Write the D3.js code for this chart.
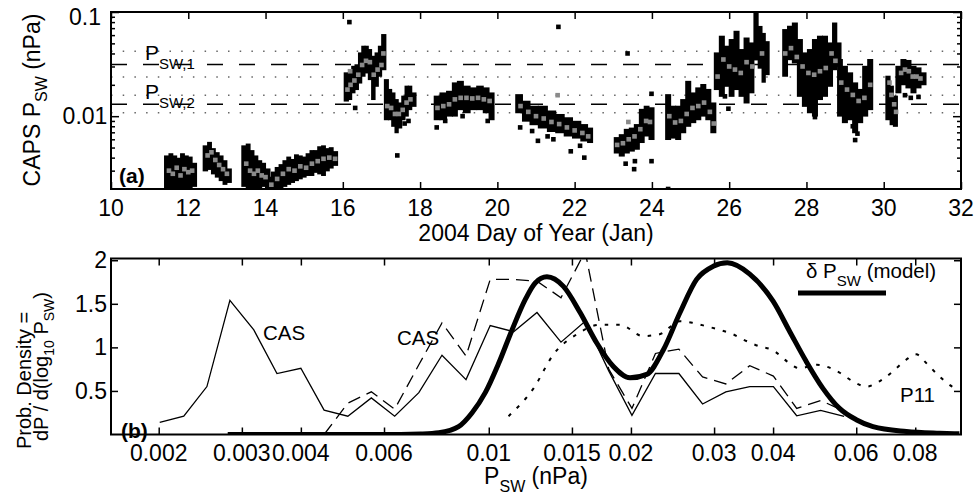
<!DOCTYPE html>
<html>
<head>
<meta charset="utf-8">
<script src="https://cdn.jsdelivr.net/npm/d3@7"></script>
<style>
  body { margin: 0; background: #fff; }
  svg { display: block; }
  text { font-family: "Liberation Sans", Arial, Helvetica, sans-serif; fill: #000; }
</style>
</head>
<body>
<svg id="chart" width="974" height="495"></svg>
<script>
// ---------- panel (a): CAPS solar wind pressure vs day ----------
const dayTicks = [10, 12, 14, 16, 18, 20, 22, 24, 26, 28, 30, 32];
const pMajorTicks = [0.01, 0.1];
const pMinorTicks = [0.003, 0.004, 0.005, 0.006, 0.007, 0.008, 0.009,
                     0.02, 0.03, 0.04, 0.05, 0.06, 0.07, 0.08, 0.09];
const pswLevels = [0.0313, 0.0130];            // dashed P_SW,1 / P_SW,2
const pswBands = [0.042, 0.0238, 0.0159, 0.0108]; // dotted lines

// [day, low, high] spread of the black points, one list per data gap
const capsSpread = [
  [[11.45,0.0021,0.0040],[11.55,0.002,0.0042],[11.65,0.002,0.0040],[11.75,0.002,0.0038],
   [11.85,0.002,0.0042],[11.95,0.002,0.0040],[12.05,0.002,0.0039],[12.15,0.0022,0.0034]],
  [[12.45,0.0031,0.0050],[12.55,0.0032,0.0054],[12.65,0.0029,0.0047],[12.75,0.0027,0.0043],
   [12.85,0.0025,0.0040],[12.95,0.0023,0.0036],[13.05,0.0024,0.0030]],
  [[13.45,0.0022,0.0050],[13.55,0.002,0.0052],[13.65,0.002,0.0045],[13.75,0.002,0.0040],
   [13.85,0.0021,0.0036],[13.95,0.0022,0.0034],[14.05,0.0021,0.0030]],
  [[14.1,0.002,0.0025],[14.2,0.002,0.0028],[14.3,0.002,0.0031],[14.4,0.0021,0.0033],
   [14.5,0.0022,0.0036],[14.6,0.0023,0.0039],[14.7,0.0024,0.0037],[14.8,0.0025,0.0041],
   [14.9,0.0026,0.0040],[15.0,0.0027,0.0039],[15.1,0.0028,0.0042],[15.2,0.0028,0.0045],
   [15.3,0.0030,0.0045],[15.4,0.0029,0.0049],[15.5,0.0028,0.0050],[15.6,0.0031,0.0047],
   [15.7,0.0033,0.0048],[15.8,0.0035,0.0044]],
  [[16.10,0.0145,0.0251],[16.19,0.015,0.027],[16.27,0.0174,0.029],[16.36,0.0187,0.030],
   [16.45,0.0216,0.039],[16.53,0.0251,0.0452],[16.62,0.027,0.0452],[16.70,0.0233,0.042],
   [16.79,0.015,0.0362],[16.88,0.0201,0.039],[16.96,0.0251,0.0452],[17.05,0.029,0.0585]],
  [[17.14,0.0096,0.0216],[17.22,0.0096,0.0174],[17.31,0.0083,0.0161],[17.39,0.0072,0.0139],
   [17.48,0.0080,0.0129],[17.57,0.0096,0.015],[17.65,0.0104,0.0187],[17.74,0.012,0.0187],
   [17.83,0.0129,0.0161]],
  [[18.43,0.0096,0.015],[18.60,0.0096,0.0161],[18.77,0.0104,0.0167],[18.90,0.0104,0.0201],
   [19.03,0.012,0.0208],[19.21,0.0112,0.0187],[19.38,0.012,0.018],[19.55,0.012,0.0187],
   [19.72,0.0112,0.018],[19.85,0.0096,0.0161]],
  [[20.54,0.0112,0.0155],[20.76,0.0093,0.0134],[20.93,0.0086,0.012],[21.19,0.0080,0.012],
   [21.40,0.0074,0.0108],[21.62,0.0072,0.0100],[21.84,0.0067,0.0093],[22.05,0.0064,0.0086],
   [22.27,0.0060,0.0080],[22.40,0.0058,0.0074]],
  [[23.09,0.0046,0.0060],[23.22,0.0043,0.0064],[23.35,0.0046,0.0072],[23.48,0.0048,0.0074],
   [23.61,0.0050,0.0080],[23.74,0.0058,0.0112],[23.86,0.0067,0.012],[23.99,0.0062,0.0116]],
  [[24.42,0.0062,0.0155],[24.55,0.0064,0.012],[24.68,0.0062,0.012],[24.81,0.0072,0.0139],
   [24.94,0.0083,0.0208],[25.07,0.0090,0.0161],[25.2,0.0096,0.018],[25.33,0.0104,0.0194],
   [25.46,0.0096,0.0174],[25.59,0.0072,0.0129]],
  [[25.68,0.0187,0.039],[25.81,0.0161,0.0564],[25.94,0.0201,0.0452],[26.06,0.0161,0.0524],
   [26.19,0.0187,0.0629],[26.32,0.0161,0.042],[26.45,0.0139,0.0542],[26.58,0.0174,0.0486],
   [26.7,0.036,0.100],[26.8,0.030,0.070],[26.9,0.022,0.060],[26.97,0.026,0.050]],
  [[27.45,0.0251,0.0653],[27.57,0.0362,0.0703],[27.70,0.0337,0.0755],[27.83,0.0161,0.0524],
   [27.96,0.0129,0.039],[28.09,0.0112,0.042],[28.22,0.0104,0.0524],[28.35,0.015,0.0564],
   [28.48,0.0161,0.0564],[28.61,0.0201,0.0486],[28.74,0.029,0.0755],[28.83,0.0313,0.0486]],
  [[28.87,0.0104,0.0337],[28.99,0.0090,0.029],[29.13,0.0096,0.0251],[29.26,0.0072,0.0201],
   [29.39,0.0090,0.0174],[29.52,0.0104,0.029],[29.65,0.012,0.0337]],
  [[30.12,0.0096,0.0233],[30.21,0.0086,0.0187],[30.29,0.0083,0.015]],
  [[30.38,0.0174,0.029],[30.51,0.0208,0.0337],[30.64,0.0194,0.033],[30.77,0.0174,0.029],
   [30.9,0.0194,0.028],[31.03,0.0208,0.0251]]
];

// grey running values [day, P]
const capsGrey = [
  [11.5,0.0030],[11.6,0.0028],[11.7,0.0032],[11.8,0.0027],[11.9,0.0031],[12.0,0.0029],[12.1,0.0030],
  [12.5,0.0042],[12.6,0.0045],[12.7,0.0038],[12.8,0.0034],[12.9,0.0031],[13.0,0.0028],
  [13.5,0.0035],[13.6,0.0030],[13.7,0.0028],[13.8,0.0030],[13.9,0.0027],[14.0,0.0026],
  [14.15,0.0022],[14.3,0.0025],[14.45,0.0028],[14.6,0.0031],[14.75,0.0030],[14.9,0.0033],
  [15.05,0.0032],[15.2,0.0035],[15.35,0.0037],[15.5,0.0039],[15.65,0.0040],[15.8,0.0039],
  [16.12,0.0180],[16.2,0.020],[16.3,0.022],[16.4,0.025],[16.5,0.031],[16.6,0.034],[16.7,0.033],
  [16.8,0.025],[16.9,0.028],[17.0,0.031],[17.05,0.040],[16.19,0.027],
  [17.15,0.0125],[17.25,0.0120],[17.35,0.0105],[17.45,0.0105],[17.55,0.0115],[17.65,0.0135],[17.75,0.0145],
  [18.45,0.012],[18.6,0.0125],[18.75,0.013],[18.9,0.0145],[19.05,0.0150],[19.2,0.0150],
  [19.35,0.0148],[19.5,0.0150],[19.65,0.0145],[19.8,0.0140],
  [20.6,0.0125],[20.8,0.0110],[21.0,0.0100],[21.2,0.0095],[21.4,0.0088],[21.6,0.0084],
  [21.8,0.0078],[22.0,0.0073],[22.2,0.0069],[22.35,0.0064],[21.56,0.0159],
  [23.1,0.0053],[23.25,0.0055],[23.4,0.0060],[23.55,0.0064],[23.7,0.0075],[23.85,0.0090],
  [23.95,0.0088],[23.39,0.0088],
  [24.45,0.0100],[24.6,0.0087],[24.75,0.0090],[24.9,0.0105],[25.05,0.0120],[25.2,0.0125],
  [25.35,0.0135],[25.5,0.0110],[25.6,0.0085],
  [25.7,0.024],[25.85,0.035],[26.0,0.030],[26.15,0.028],[26.3,0.026],[26.45,0.033],[26.6,0.030],[26.85,0.040],
  [27.45,0.040],[27.6,0.045],[27.75,0.037],[27.9,0.030],[28.05,0.026],[28.2,0.025],[28.35,0.027],
  [28.5,0.029],[28.65,0.040],[28.75,0.034],
  [28.9,0.021],[29.05,0.018],[29.2,0.016],[29.35,0.014],[29.5,0.015],[29.65,0.020],
  [30.15,0.021],[30.2,0.016],[30.27,0.013],[30.32,0.011],
  [30.45,0.026],[30.55,0.028],[30.65,0.027],[30.75,0.024],[30.85,0.024],[30.95,0.023]
];

// isolated black points [day, P]
const capsOutliers = [
  [16.17,0.080],[16.32,0.0120],[17.41,0.0042],[17.6,0.0085],[17.7,0.0090],
  [18.43,0.0078],[18.65,0.0090],[19.1,0.0100],[19.75,0.0090],
  [20.59,0.0078],[20.9,0.0072],[21.05,0.0058],[21.3,0.0064],[21.45,0.0060],[21.58,0.072],
  [21.9,0.0046],[22.14,0.0052],[22.25,0.0040],
  [23.32,0.0035],[23.56,0.0037],[23.54,0.0031],[23.99,0.0037],[23.37,0.040],[23.99,0.0164],[24.42,0.002],
  [25.89,0.0155],[25.98,0.0118],[28.22,0.0098],[28.1,0.0115],
  [29.26,0.0059],[29.32,0.0068],[29.2,0.0080],
  [30.55,0.0159],[30.7,0.0150],[30.9,0.0153]
];

// ---------- panel (b): probability densities ----------
const pTickLabels = [0.002, 0.003, 0.004, 0.006, 0.01, 0.015, 0.02, 0.03, 0.04, 0.06, 0.08];
const densityTicks = [0.5, 1, 1.5, 2];

const binP = [0.00201,0.00226,0.00253,0.00283,0.00318,0.00356,0.00400,0.00448,0.00503,0.00564,
              0.00632,0.00711,0.00796,0.00895,0.01007,0.01129,0.01265,0.01422,0.01600,0.01795,
              0.02010,0.02254,0.02527,0.02836,0.03177,0.03570,0.04006,0.04488,0.05043,0.05656];
const casSolid = [0.14,0.21,0.55,1.54,1.20,0.70,0.76,0.28,0.21,0.42,
                  0.21,0.48,0.91,0.63,1.25,1.18,1.40,1.06,1.30,0.73,
                  0.22,0.70,0.70,0.35,0.49,0.55,0.55,0.215,0.276,0.207];
const casDashed = [null,null,null,null,null,null,null,0.0,0.36,0.49,
                   0.29,0.80,1.28,0.90,1.78,1.78,1.76,1.57,2.10,0.75,
                   0.30,0.93,0.98,0.66,0.58,0.79,0.67,0.30,0.39,0.27];

const p11P = [0.01101,0.01244,0.01371,0.01536,0.0172,0.01897,0.0212,0.0230,0.0254,0.0271,
              0.0290,0.0309,0.0329,0.0352,0.0375,0.0399,0.0428,0.0455,0.0495,0.0553,
              0.0590,0.0631,0.0672,0.0716,0.0766,0.0804,0.0844,0.0899,0.0958,0.0992];
const p11Density = [0.21,0.53,0.92,1.15,1.26,1.26,1.13,1.15,1.30,1.28,
                    1.24,1.20,1.15,1.07,1.01,0.97,0.84,0.76,0.80,0.71,
                    0.61,0.55,0.61,0.72,0.86,0.92,0.82,0.67,0.55,0.52];

const modelP = [0.0028,0.0065,0.00717,0.00784,0.00863,0.00922,0.00983,0.0105,0.0112,0.01195,
                0.01254,0.01328,0.01439,0.01561,0.01693,0.01836,0.01991,0.02160,0.02342,0.02541,
                0.02755,0.02987,0.0320,0.0357,0.0400,0.0434,0.0470,0.0510,0.0553,0.0600,
                0.0651,0.0766,0.0900,0.0992];
const modelDensity = [0,0,0.005,0.02,0.09,0.25,0.48,0.82,1.20,1.55,
                      1.74,1.81,1.70,1.40,1.05,0.78,0.65,0.69,0.97,1.40,
                      1.78,1.93,1.97,1.84,1.53,1.18,0.84,0.53,0.30,0.17,
                      0.09,0.035,0.015,0.008];

// ---------- drawing ----------
const svg = d3.select("#chart");
const FONT = 23;

function frame(g, x0, y0, x1, y1) {
  g.append("rect").attr("x", x0).attr("y", y0).attr("width", x1 - x0).attr("height", y1 - y0)
    .attr("fill", "none").attr("stroke", "#000").attr("stroke-width", 2);
}
function clip(id, x0, y0, x1, y1) {
  svg.append("clipPath").attr("id", id).append("rect")
    .attr("x", x0).attr("y", y0).attr("width", x1 - x0).attr("height", y1 - y0);
}

// ===== panel (a) =====
const xa = d3.scaleLinear().domain([10, 32]).range([111, 961]);
const ya = d3.scaleLog().domain([0.002, 0.1]).range([189, 12]);
clip("clipA", 111, 12, 961, 189);
const ga = svg.append("g");
const plotA = ga.append("g").attr("clip-path", "url(#clipA)");

// reference levels
plotA.selectAll("line.band").data(pswBands).join("line")
  .attr("x1", 111).attr("x2", 961).attr("y1", d => ya(d)).attr("y2", d => ya(d))
  .attr("stroke", "#666").attr("stroke-width", 1.4).attr("stroke-dasharray", "1.5,10.2");
plotA.selectAll("line.level").data(pswLevels).join("line")
  .attr("x1", 111).attr("x2", 961).attr("y1", d => ya(d)).attr("y2", d => ya(d))
  .attr("stroke", "#000").attr("stroke-width", 1.5).attr("stroke-dasharray", "16,16");

// black spread of points
capsSpread.forEach(cl => {
  cl.forEach((d, i) => {
    const xc = xa(d[0]);
    const xl = i > 0 ? (xa(cl[i - 1][0]) + xc) / 2 : xc - 2.5;
    const xr = i < cl.length - 1 ? (xa(cl[i + 1][0]) + xc) / 2 : xc + 2.5;
    plotA.append("rect")
      .attr("x", xl - 0.5).attr("width", xr - xl + 1)
      .attr("y", ya(d[2]) - 2.2).attr("height", ya(d[1]) - ya(d[2]) + 4.4)
      .attr("fill", "#000");
  });
});
plotA.selectAll("rect.out").data(capsOutliers).join("rect")
  .attr("x", d => xa(d[0]) - 2.3).attr("y", d => ya(d[1]) - 2.3)
  .attr("width", 4.6).attr("height", 4.6).attr("fill", "#000");
plotA.selectAll("rect.grey").data(capsGrey).join("rect")
  .attr("x", d => xa(d[0]) - 2.3).attr("y", d => ya(d[1]) - 2.3)
  .attr("width", 4.6).attr("height", 4.6).attr("fill", "#8a8a8a");

// level labels
pswLevels.forEach((v, i) => {
  const t = ga.append("text").attr("x", 145).attr("y", ya(v) - 5).attr("font-size", 21).text("P");
  t.append("tspan").attr("font-size", 15).attr("dy", 9).text("SW," + (i + 1));
});

// ticks
ga.append("g").attr("transform", "translate(0,189)")
  .call(d3.axisBottom(xa).tickValues(dayTicks).tickSize(-7).tickFormat(""))
  .call(g => g.select(".domain").remove());
ga.append("g").attr("transform", "translate(0,12)")
  .call(d3.axisTop(xa).tickValues(dayTicks).tickSize(-7).tickFormat(""))
  .call(g => g.select(".domain").remove());
[[111, d3.axisLeft], [961, d3.axisRight]].forEach(([xp, ax]) => {
  ga.append("g").attr("transform", `translate(${xp},0)`)
    .call(ax(ya).tickValues(pMajorTicks).tickSize(-8).tickFormat(""))
    .call(g => g.select(".domain").remove());
  ga.append("g").attr("transform", `translate(${xp},0)`)
    .call(ax(ya).tickValues(pMinorTicks).tickSize(-4).tickFormat(""))
    .call(g => g.select(".domain").remove());
});
ga.selectAll(".tick line").attr("stroke", "#000").attr("stroke-width", 1.5);
frame(ga, 111, 12, 961, 189);

ga.selectAll("text.xl").data(dayTicks).join("text")
  .attr("x", d => xa(d)).attr("y", 216).attr("text-anchor", "middle")
  .attr("font-size", FONT).text(d => d);
ga.selectAll("text.yl").data(pMajorTicks).join("text")
  .attr("x", 85).attr("y", d => Math.max(ya(d), 17) + 8).attr("text-anchor", "middle")
  .attr("font-size", FONT).text(d => d);
ga.append("text").attr("x", 536).attr("y", 241).attr("text-anchor", "middle")
  .attr("font-size", FONT).text("2004 Day of Year (Jan)");
const yt = ga.append("text").attr("transform", "translate(40,100) rotate(-90)")
  .attr("text-anchor", "middle").attr("font-size", FONT).text("CAPS P");
yt.append("tspan").attr("font-size", 16).attr("dy", 7).text("SW");
yt.append("tspan").attr("dy", -7).text(" (nPa)");
ga.append("text").attr("x", 119).attr("y", 183).attr("font-size", 21)
  .attr("font-weight", "bold").text("(a)");

// ===== panel (b) =====
const xb = d3.scaleLog().domain([Math.pow(10, -2.8), 0.1]).range([111, 961]);
const yb = d3.scaleLinear().domain([0, 2.02]).range([434.5, 258.5]);
clip("clipB", 111, 258.5, 961, 434.5);
const gb = svg.append("g");
const plotB = gb.append("g").attr("clip-path", "url(#clipB)");

const lineB = d3.line().defined(d => d[1] != null).x(d => xb(d[0])).y(d => yb(d[1]));
plotB.append("path").attr("d", lineB(binP.map((p, i) => [p, casSolid[i]])))
  .attr("fill", "none").attr("stroke", "#000").attr("stroke-width", 1.3);
plotB.append("path").attr("d", lineB(binP.map((p, i) => [p, casDashed[i]])))
  .attr("fill", "none").attr("stroke", "#000").attr("stroke-width", 1.3)
  .attr("stroke-dasharray", "13,7");
plotB.append("path")
  .attr("d", d3.line().curve(d3.curveMonotoneX).x(d => xb(d[0])).y(d => yb(d[1]))(p11P.map((p, i) => [p, p11Density[i]])))
  .attr("fill", "none").attr("stroke", "#000").attr("stroke-width", 2)
  .attr("stroke-dasharray", "3.5,8");
plotB.append("path")
  .attr("d", d3.line().curve(d3.curveMonotoneX).x(d => xb(d[0])).y(d => yb(d[1]))(modelP.map((p, i) => [p, modelDensity[i]])))
  .attr("fill", "none").attr("stroke", "#000").attr("stroke-width", 5);

// ticks
gb.append("g").attr("transform", "translate(0,258.5)")
  .call(d3.axisTop(xb).tickValues(pTickLabels).tickSize(-7).tickFormat(""))
  .call(g => g.select(".domain").remove());
gb.append("g").attr("transform", "translate(0,434.5)")
  .call(d3.axisBottom(xb).tickValues(pTickLabels).tickSize(-7).tickFormat(""))
  .call(g => g.select(".domain").remove());
gb.append("g").attr("transform", "translate(111,0)")
  .call(d3.axisLeft(yb).tickValues(densityTicks).tickSize(-7).tickFormat(""))
  .call(g => g.select(".domain").remove());
gb.append("g").attr("transform", "translate(961,0)")
  .call(d3.axisRight(yb).tickValues(densityTicks).tickSize(-7).tickFormat(""))
  .call(g => g.select(".domain").remove());
gb.selectAll(".tick line").attr("stroke", "#000").attr("stroke-width", 1.5);
frame(gb, 111, 258.5, 961, 434.5);

gb.selectAll("text.xl").data(pTickLabels).join("text")
  .attr("x", d => xb(d)).attr("y", 461).attr("text-anchor", "middle")
  .attr("font-size", FONT).text(d => d);
gb.selectAll("text.yl").data(densityTicks).join("text")
  .attr("x", 107).attr("y", d => yb(d) + 8).attr("text-anchor", "end")
  .attr("font-size", FONT).text(d => d);
const xt = gb.append("text").attr("x", 536).attr("y", 484).attr("text-anchor", "middle")
  .attr("font-size", FONT).text("P");
xt.append("tspan").attr("font-size", 16).attr("dy", 8).text("SW");
xt.append("tspan").attr("dy", -8).text(" (nPa)");

gb.append("text").attr("transform", "translate(31,449) rotate(-90)")
  .attr("font-size", 20).text("Prob. Density =");
const yt2 = gb.append("text").attr("transform", "translate(48,441) rotate(-90)")
  .attr("font-size", 20).text("dP / d(log");
yt2.append("tspan").attr("font-size", 14).attr("dy", 6).text("10");
yt2.append("tspan").attr("dy", -6).text(" P");
yt2.append("tspan").attr("font-size", 14).attr("dy", 6).text("SW");
yt2.append("tspan").attr("dy", -6).text(")");

gb.append("text").attr("x", 121).attr("y", 438).attr("font-size", 21)
  .attr("font-weight", "bold").text("(b)");
gb.append("text").attr("x", 263).attr("y", 340).attr("font-size", 20.5).text("CAS");
gb.append("text").attr("x", 397).attr("y", 345).attr("font-size", 20.5).text("CAS");
gb.append("text").attr("x", 900).attr("y", 402).attr("font-size", 20.5).text("P11");

// legend
const lg = gb.append("text").attr("x", 806).attr("y", 278).attr("font-size", 20.5).text("\u03b4 P");
lg.append("tspan").attr("font-size", 15).attr("dy", 8).text("SW");
lg.append("tspan").attr("dy", -8).text(" (model)");
gb.append("line").attr("x1", 798).attr("x2", 886).attr("y1", 293).attr("y2", 293)
  .attr("stroke", "#000").attr("stroke-width", 5);
</script>
</body>
</html>
